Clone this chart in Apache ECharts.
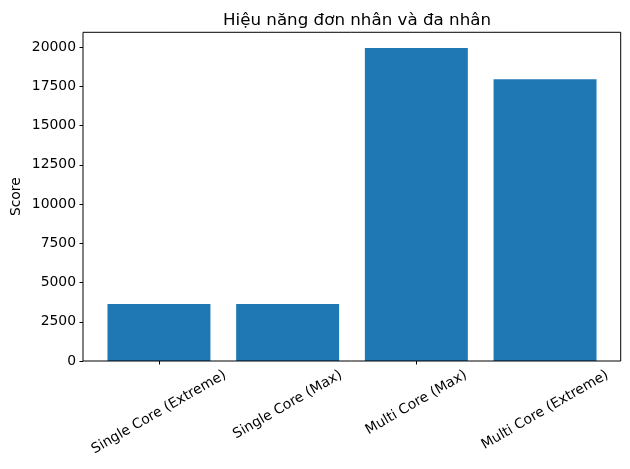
<!DOCTYPE html>
<html>
<head>
<meta charset="utf-8">
<script src="https://cdn.jsdelivr.net/npm/echarts@6/dist/echarts.min.js"></script>
<style>html,body{margin:0;padding:0;background:#fff}#c{width:630px;height:469px}</style>
</head>
<body>
<div id="c"></div>
<script>
var categories = ['Single Core (Extreme)', 'Single Core (Max)', 'Multi Core (Max)', 'Multi Core (Extreme)'];
var scores = [3630, 3630, 19950, 17950];
var yTicks = [0, 2500, 5000, 7500, 10000, 12500, 15000, 17500, 20000];
var titleText = 'Hiệu năng đơn nhân và đa nhân';
var yName = 'Score';

var FONT = 'DejaVu Sans';
var FS = 13.9;
var chart = echarts.init(document.getElementById('c'), null, {renderer: 'canvas'});
var yMax = Math.max.apply(null, scores) * 1.05;

chart.setOption({
  animation: false,
  backgroundColor: '#fff',
  title: {
    text: titleText, left: 352, top: 7, textAlign: 'center',
    textStyle: {fontFamily: FONT, fontSize: 16.7, fontWeight: 'normal', color: '#000'}
  },
  grid: [
    {left: 94.6, right: 20.6, top: 32.3, bottom: 108, containLabel: false, outerBoundsMode: 'none'},
    {left: 83, right: 9.3, top: 32.3, bottom: 108, show: true, borderColor: '#000', borderWidth: 1, backgroundColor: 'transparent', z: 10, outerBoundsMode: 'none'}
  ],
  xAxis: [
    {type: 'category', gridIndex: 0, data: categories,
     axisLine: {show: false},
     axisTick: {show: true, alignWithLabel: true, length: 3.5, lineStyle: {color: '#000'}},
     axisLabel: {show: false}},
    {type: 'value', gridIndex: 1, show: false}
  ],
  yAxis: [
    {type: 'value', gridIndex: 0, min: 0, max: yMax, offset: 11.6,
     splitLine: {show: false},
     axisLine: {show: false},
     axisTick: {show: true, length: 3.5, lineStyle: {color: '#000'}, customValues: yTicks},
     axisLabel: {fontFamily: FONT, fontSize: FS, color: '#000', margin: 7, customValues: yTicks,
                 formatter: function (v) { return String(v); }},
     name: yName, nameLocation: 'middle', nameGap: 60, nameRotate: 90, nameMoveOverlap: false,
     nameTextStyle: {fontFamily: FONT, fontSize: FS, color: '#000'}},
    {type: 'value', gridIndex: 1, show: false}
  ],
  series: [{
    type: 'bar', xAxisIndex: 0, yAxisIndex: 0, data: scores,
    barWidth: '80%', itemStyle: {color: '#1f77b4'}
  }]
});

// rotated x tick labels, matplotlib style (rotation 30, centered under tick)
var ctx = document.createElement('canvas').getContext('2d');
ctx.font = FS + 'px "' + FONT + '"';
var baseY = chart.convertToPixel({yAxisIndex: 0}, 0);
var lineH = FS * 1.0;
var els = categories.map(function (c) {
  var px = chart.convertToPixel({xAxisIndex: 0}, c);
  var w = ctx.measureText(c).width;
  var bboxH = w * 0.5 + lineH * 0.866;
  return {
    type: 'text', x: px, y: baseY + 3.5 + 3.5 + bboxH / 2, rotation: Math.PI / 6,
    style: {text: c, fontFamily: FONT, fontSize: FS, fill: '#000', align: 'center', verticalAlign: 'middle'}
  };
});
chart.setOption({graphic: els});
</script>
</body>
</html>
